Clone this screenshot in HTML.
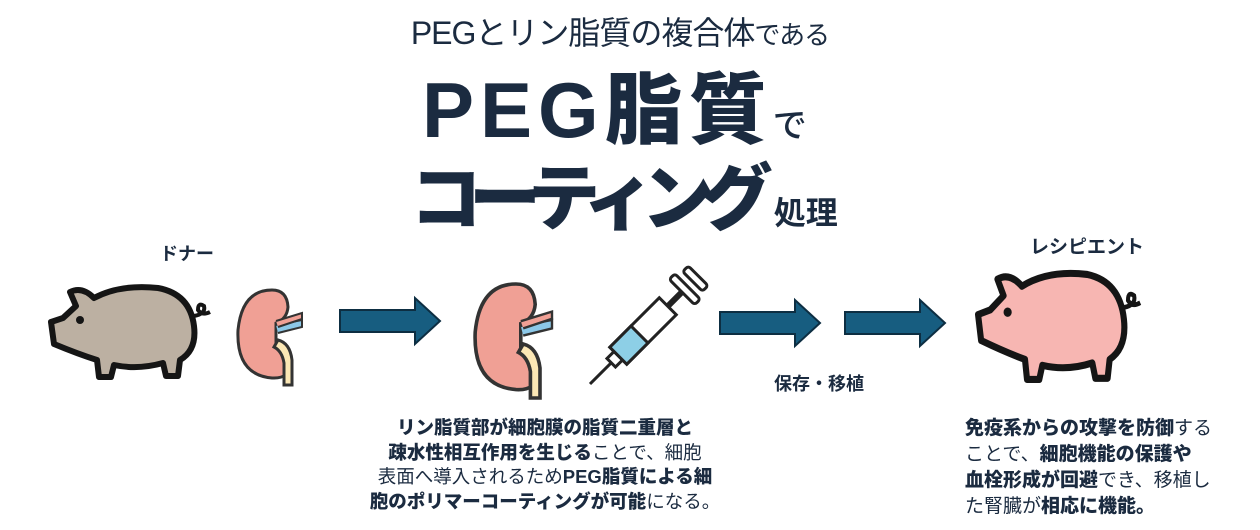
<!DOCTYPE html>
<html><head><meta charset="utf-8"><style>
body{margin:0;width:1260px;height:530px;background:#fff;position:relative;overflow:hidden;font-family:"Liberation Sans","Noto Sans CJK JP",sans-serif;color:#1b2b40}
.t{position:absolute;white-space:nowrap}
b{font-weight:900}
</style></head><body>
<div class="t" style="left:0;width:1240px;text-align:center;top:8px;font-size:32px;letter-spacing:-1px">PEGとリン脂質の複合体<span style="font-size:26px">である</span></div>
<div class="t" style="left:422px;top:48px;font-size:78px;font-weight:900;letter-spacing:6px">PEG脂質<span style="font-size:34px;font-weight:500;letter-spacing:0">で</span></div>
<div class="t" style="left:410px;top:140px;font-size:72px;font-weight:900;letter-spacing:-13px">コーティング<span style="font-size:32px;font-weight:700;letter-spacing:0;margin-left:14px">処理</span></div>
<div class="t" style="left:160px;top:240px;font-size:18px;font-weight:700">ドナー</div>
<div class="t" style="left:1030px;top:232px;font-size:19px;font-weight:700">レシピエント</div>
<div class="t" style="left:774px;top:370px;font-size:18px;font-weight:700">保存・移植</div>
<svg width="1260" height="530" style="position:absolute;left:0;top:0">
<defs>
<g id="pig">
<path d="M15,38 L28,26 L22,12 Q34,6 46,18 Q72,4 110,8 Q142,14 146,46 Q149,70 132,80 L130,96 L118,96 L115,83 Q90,90 66,85 L63,97 L51,97 L49,80 Q30,74 6,64 L3,42 Z" stroke="#151515" stroke-width="6" stroke-linejoin="round"/>
<circle cx="32" cy="40" r="4" fill="#151515"/>
<path d="M146,36 Q158,34 156,26 Q150,22 150,30 Q154,36 162,32" stroke="#151515" stroke-width="4" fill="none"/>
</g>
<g id="kid">
<path d="M40,5 Q10,5 6,45 Q4,90 40,93 Q58,94 58,78 Q54,65 44,60 L44,38 Q55,34 56,22 Q55,5 40,5 Z" fill="#f0a095" stroke="#333" stroke-width="3"/>
<path d="M44,40 L70,35 L70,42 L46,48" fill="#8cc8e8" stroke="#333" stroke-width="2"/>
<path d="M44,36 L70,28 L70,34 L46,42" fill="#f0a095" stroke="#333" stroke-width="2"/>
<path d="M46,55 Q58,58 60,75 L60,100 L52,100 L52,78 Q50,66 42,62 Z" fill="#fbe7b5" stroke="#333" stroke-width="3"/>
</g>
<polygon id="arr" points="0,12 75,12 75,0 100,23 75,46 75,34 0,34" fill="#175d80" stroke="#0d2e42" stroke-width="2"/>
</defs>
<use href="#pig" transform="translate(48,280)" fill="#bcb0a2"/>
<use href="#kid" transform="translate(232,285)"/>
<use href="#arr" transform="translate(340,298)"/>
<use href="#kid" transform="translate(468,278) scale(1.2)"/>
<g transform="translate(590,384) rotate(-45)" stroke="#222" stroke-width="3" fill="#fff">
<line x1="0" y1="0" x2="30" y2="0"/>
<rect x="30" y="-6" width="10" height="12"/>
<rect x="40" y="-12" width="70" height="24"/>
<rect x="40" y="-12" width="30" height="24" fill="#8dcfe6"/>
<line x1="110" y1="0" x2="135" y2="0" stroke-width="6"/>
<rect x="130" y="-18" width="8" height="36" rx="3"/>
<rect x="145" y="-14" width="8" height="28" rx="3"/>
</g>
<use href="#arr" transform="translate(720,300)"/>
<use href="#arr" transform="translate(845,300)"/>
<use href="#pig" transform="translate(975,265) scale(1.02,1.18)" fill="#f7b6b2"/>
</svg>
<div class="t" style="left:360px;width:370px;top:416px;font-size:18.5px;line-height:24.5px;text-align:center"><b>リン脂質部が細胞膜の脂質二重層と</b><br><b>疎水性相互作用を生じる</b>ことで、細胞<br>表面へ導入されるため<b>PEG脂質による細</b><br><b>胞のポリマーコーティングが可能</b>になる。</div>
<div class="t" style="left:965px;top:416px;font-size:19px;line-height:26px"><b>免疫系からの攻撃を防御</b>する<br>ことで、<b>細胞機能の保護や</b><br><b>血栓形成が回避</b>でき、移植し<br>た腎臓が<b>相応に機能。</b></div>
</body></html>
